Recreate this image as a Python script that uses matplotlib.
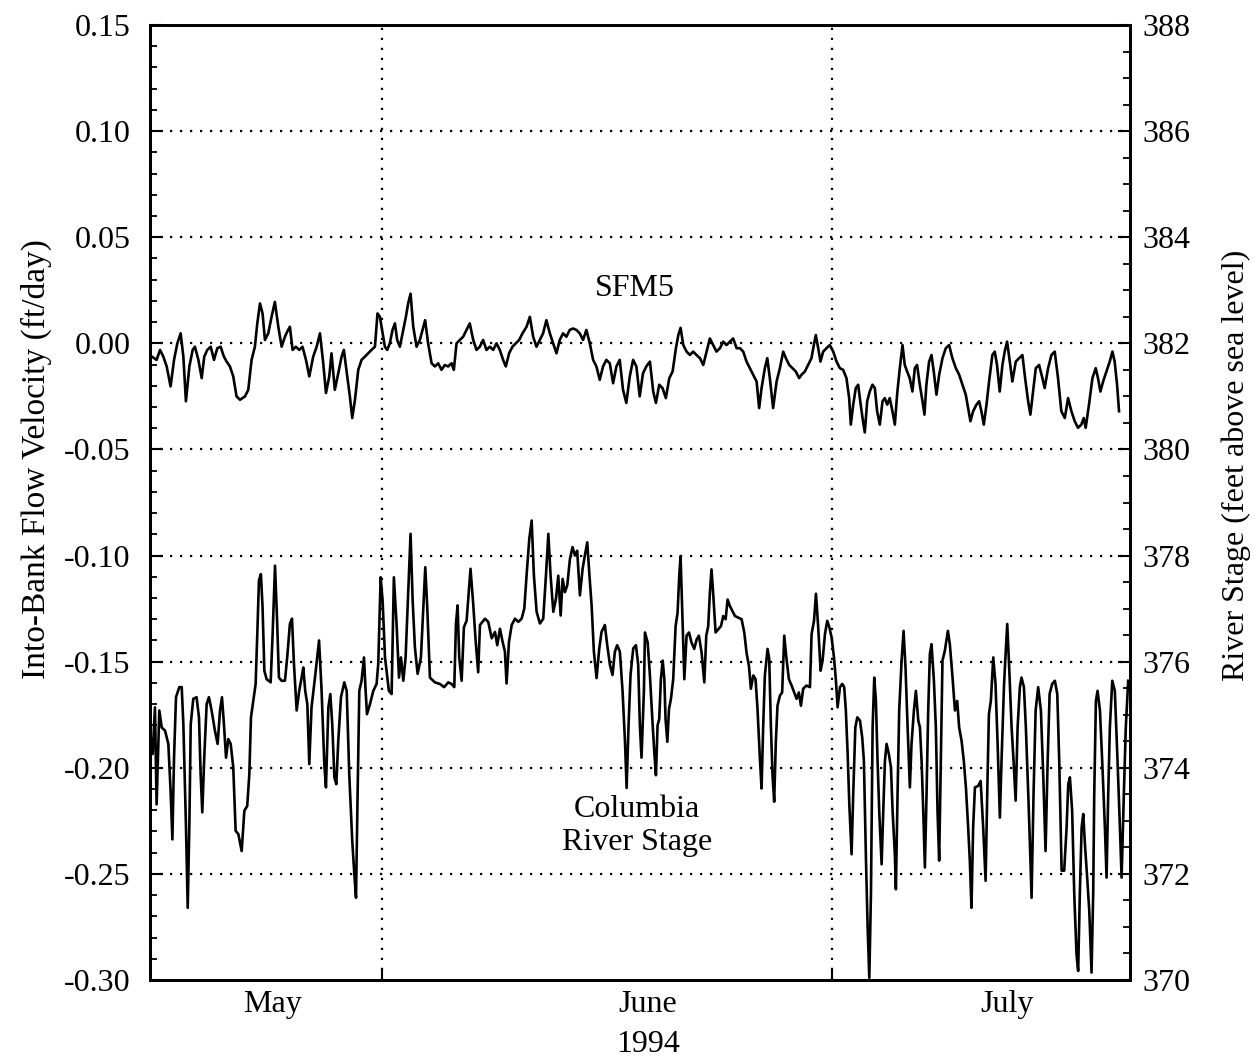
import matplotlib
matplotlib.use("Agg")
import matplotlib.pyplot as plt
from matplotlib.ticker import MultipleLocator, FixedLocator

plt.rcParams['font.family'] = ['Liberation Serif', 'DejaVu Serif']
plt.rcParams['axes.unicode_minus'] = False

# time axis: days counted from 1 May 1994 (June 1 = 31, July 1 = 61)
month_names = ["May", "June", "July"]
month_label_pos = [23.7, 48.7, 72.6]
month_starts = [31, 61]
year_label = "1994"

# SFM5 into-bank flow velocity (ft/day) -- (day, value)
sfm5 = [
    (15.65, -0.006), (16.02, -0.0078), (16.25, -0.0031), (16.47, -0.0063), (16.69, -0.0109),
    (16.95, -0.0203), (17.18, -0.0078), (17.40, 0.0), (17.62, 0.0047), (17.80, -0.0063),
    (17.97, -0.0273), (18.20, -0.0109), (18.42, -0.0031), (18.57, -0.0016), (18.80, -0.0078),
    (19.02, -0.0164), (19.19, -0.0063), (19.39, -0.0031), (19.62, -0.0016), (19.84, -0.0078),
    (20.06, -0.0023), (20.28, -0.0016), (20.50, -0.0063), (20.68, -0.0086), (20.90, -0.0109),
    (21.12, -0.0156), (21.34, -0.0250), (21.57, -0.0266), (21.90, -0.0250), (22.12, -0.0219),
    (22.34, -0.0078), (22.56, -0.0016), (22.72, 0.0094), (22.90, 0.0188), (23.07, 0.0141),
    (23.23, 0.0016), (23.45, 0.0047), (23.67, 0.0125), (23.89, 0.0195), (24.12, 0.0078),
    (24.34, -0.0016), (24.56, 0.0031), (24.71, 0.0055), (24.89, 0.0078), (25.07, -0.0031),
    (25.29, -0.0016), (25.51, -0.0031), (25.73, -0.0016), (25.96, -0.0078), (26.18, -0.0156),
    (26.44, -0.0063), (26.67, -0.0016), (26.89, 0.0047), (27.11, -0.0094), (27.29, -0.0234),
    (27.51, -0.0156), (27.66, -0.0047), (27.88, -0.0219), (28.11, -0.0141), (28.33, -0.0063),
    (28.48, -0.0031), (28.71, -0.0156), (28.88, -0.0250), (29.04, -0.0352), (29.22, -0.0266),
    (29.44, -0.0125), (29.66, -0.0078), (29.88, -0.0063), (30.10, -0.0047), (30.32, -0.0031),
    (30.55, -0.0016), (30.72, 0.0141), (30.88, 0.0125), (31.06, 0.0047), (31.21, -0.0016),
    (31.37, -0.0031), (31.54, 0.0), (31.72, 0.0063), (31.88, 0.0094), (32.03, 0.0016),
    (32.21, -0.0016), (32.39, 0.0047), (32.61, 0.0125), (32.76, 0.0188), (32.92, 0.0234),
    (33.10, 0.0078), (33.32, -0.0016), (33.54, 0.0016), (33.72, 0.0063), (33.89, 0.0109),
    (34.09, 0.0), (34.32, -0.0094), (34.54, -0.0109), (34.76, -0.0094), (34.98, -0.0125),
    (35.20, -0.0102), (35.42, -0.0109), (35.65, -0.0094), (35.80, -0.0125), (35.98, 0.0),
    (36.20, 0.0016), (36.42, 0.0031), (36.64, 0.0063), (36.86, 0.0094), (37.09, 0.0016),
    (37.31, -0.0031), (37.53, -0.0016), (37.75, 0.0016), (37.97, -0.0031), (38.20, -0.0016),
    (38.42, -0.0031), (38.64, 0.0), (38.86, -0.0031), (39.08, -0.0078), (39.26, -0.0109),
    (39.48, -0.0047), (39.70, -0.0016), (39.93, 0.0), (40.15, 0.0016), (40.37, 0.0047),
    (40.64, 0.0078), (40.86, 0.0125), (41.08, 0.0031), (41.30, -0.0016), (41.52, 0.0016),
    (41.74, 0.0047), (41.96, 0.0109), (42.19, 0.0047), (42.41, 0.0), (42.63, -0.0047),
    (42.85, 0.0016), (43.07, 0.0047), (43.29, 0.0031), (43.51, 0.0063), (43.74, 0.0070),
    (43.96, 0.0063), (44.18, 0.0047), (44.40, 0.0016), (44.62, 0.0063), (44.85, 0.0),
    (45.07, -0.0078), (45.29, -0.0109), (45.51, -0.0172), (45.73, -0.0109), (45.95, -0.0078),
    (46.18, -0.0094), (46.40, -0.0188), (46.62, -0.0109), (46.84, -0.0078), (47.06, -0.0219),
    (47.28, -0.0281), (47.51, -0.0156), (47.73, -0.0078), (47.95, -0.0109), (48.17, -0.0250),
    (48.39, -0.0141), (48.61, -0.0109), (48.85, -0.0086), (49.07, -0.0227), (49.25, -0.0281),
    (49.47, -0.0195), (49.69, -0.0211), (49.91, -0.0258), (50.14, -0.0164), (50.36, -0.0133),
    (50.58, -0.0023), (50.74, 0.0039), (50.89, 0.0073), (51.07, -0.0008), (51.29, -0.0039),
    (51.51, -0.0055), (51.73, -0.0039), (51.95, -0.0055), (52.18, -0.0070), (52.40, -0.0102),
    (52.62, -0.0039), (52.84, 0.0023), (53.06, -0.0008), (53.28, -0.0039), (53.51, -0.0023),
    (53.73, 0.0008), (53.95, -0.0008), (54.17, 0.0008), (54.39, 0.0023), (54.62, -0.0023),
    (54.84, -0.0023), (55.06, -0.0039), (55.28, -0.0086), (55.50, -0.0117), (55.72, -0.0148),
    (55.95, -0.0180), (56.12, -0.0305), (56.28, -0.0211), (56.50, -0.0117), (56.66, -0.0070),
    (56.83, -0.0164), (57.05, -0.0305), (57.28, -0.0180), (57.50, -0.0117), (57.72, -0.0039),
    (57.90, -0.0070), (58.12, -0.0102), (58.34, -0.0117), (58.56, -0.0133), (58.78, -0.0164),
    (58.94, -0.0148), (59.16, -0.0133), (59.38, -0.0102), (59.60, -0.0070), (59.76, -0.0008),
    (59.89, 0.0039), (60.05, -0.0023), (60.20, -0.0086), (60.38, -0.0039), (60.60, -0.0023),
    (60.82, -0.0008), (61.05, -0.0039), (61.27, -0.0086), (61.49, -0.0117), (61.71, -0.0125),
    (61.93, -0.0164), (62.11, -0.0258), (62.22, -0.0383), (62.38, -0.0289), (62.55, -0.0211),
    (62.71, -0.0195), (62.82, -0.0258), (63.00, -0.0352), (63.15, -0.0420), (63.31, -0.0273),
    (63.48, -0.0227), (63.66, -0.0195), (63.82, -0.0211), (63.97, -0.0320), (64.15, -0.0383),
    (64.33, -0.0273), (64.48, -0.0258), (64.64, -0.0289), (64.81, -0.0258), (64.99, -0.0320),
    (65.15, -0.0383), (65.30, -0.0242), (65.48, -0.0117), (65.66, -0.0008), (65.81, -0.0102),
    (65.97, -0.0133), (66.14, -0.0164), (66.32, -0.0227), (66.48, -0.0117), (66.63, -0.0102),
    (66.81, -0.0195), (66.99, -0.0273), (67.12, -0.0336), (67.25, -0.0195), (67.43, -0.0086),
    (67.59, -0.0055), (67.74, -0.0133), (67.92, -0.0242), (68.10, -0.0148), (68.32, -0.0070),
    (68.54, -0.0023), (68.76, -0.0008), (68.98, -0.0070), (69.21, -0.0117), (69.43, -0.0148),
    (69.65, -0.0195), (69.87, -0.0242), (70.03, -0.0305), (70.18, -0.0367), (70.36, -0.0320),
    (70.58, -0.0289), (70.76, -0.0273), (70.91, -0.0320), (71.07, -0.0383), (71.25, -0.0289),
    (71.42, -0.0180), (71.64, -0.0055), (71.80, -0.0039), (71.95, -0.0102), (72.13, -0.0227),
    (72.31, -0.0102), (72.46, -0.0039), (72.62, 0.0008), (72.80, -0.0086), (72.97, -0.0180),
    (73.20, -0.0086), (73.42, -0.0070), (73.64, -0.0055), (73.82, -0.0164), (74.02, -0.0273),
    (74.17, -0.0336), (74.35, -0.0227), (74.53, -0.0117), (74.75, -0.0102), (74.97, -0.0164),
    (75.12, -0.0211), (75.35, -0.0117), (75.57, -0.0055), (75.79, -0.0039), (76.01, -0.0164),
    (76.23, -0.0320), (76.46, -0.0352), (76.68, -0.0258), (76.90, -0.0320), (77.12, -0.0367),
    (77.34, -0.0398), (77.56, -0.0383), (77.72, -0.0352), (77.85, -0.0398), (78.07, -0.0289),
    (78.30, -0.0164), (78.52, -0.0117), (78.67, -0.0164), (78.83, -0.0227), (79.01, -0.0180),
    (79.23, -0.0133), (79.45, -0.0086), (79.63, -0.0039), (79.78, -0.0086), (79.94, -0.0195),
    (80.07, -0.0320),
]

# Columbia River stage (feet above sea level) -- (day, value)
river = [
    (15.62, 374.6), (15.76, 374.26), (15.91, 375.14), (16.02, 373.31), (16.20, 375.08), (16.36, 374.76),
    (16.58, 374.70), (16.80, 374.45), (16.95, 373.57), (17.07, 372.65), (17.18, 374.19),
    (17.31, 375.33), (17.53, 375.52), (17.69, 375.52), (17.80, 374.82), (17.97, 372.94),
    (18.09, 371.36), (18.20, 372.94), (18.29, 374.82), (18.46, 375.30), (18.68, 375.33),
    (18.84, 374.95), (18.95, 373.88), (19.06, 373.16), (19.19, 374.19), (19.35, 375.20),
    (19.50, 375.33), (19.68, 375.08), (19.90, 374.70), (20.08, 374.45), (20.24, 375.08),
    (20.37, 375.33), (20.50, 374.82), (20.64, 374.19), (20.79, 374.54), (20.95, 374.45),
    (21.12, 374.01), (21.28, 372.81), (21.46, 372.75), (21.68, 372.43), (21.86, 373.19),
    (22.05, 373.28), (22.19, 373.88), (22.30, 374.95), (22.45, 375.26), (22.61, 375.58),
    (22.72, 376.52), (22.83, 377.53), (22.96, 377.65), (23.07, 377.03), (23.19, 375.83),
    (23.34, 375.67), (23.61, 375.61), (23.74, 376.52), (23.90, 377.81), (24.03, 376.84),
    (24.16, 375.70), (24.34, 375.64), (24.56, 375.64), (24.71, 376.08), (24.89, 376.71),
    (25.03, 376.81), (25.16, 375.96), (25.34, 375.08), (25.51, 375.45), (25.67, 375.70),
    (25.78, 375.89), (25.91, 375.45), (26.05, 375.20), (26.18, 374.07), (26.33, 375.14),
    (26.49, 375.52), (26.56, 375.70), (26.83, 376.40), (27.00, 375.45), (27.18, 374.07),
    (27.29, 373.63), (27.45, 375.14), (27.58, 375.39), (27.71, 374.82), (27.85, 373.82),
    (27.98, 373.69), (28.11, 374.51), (28.29, 375.33), (28.51, 375.61), (28.67, 375.45),
    (28.84, 373.88), (29.04, 372.62), (29.18, 371.99), (29.29, 371.55), (29.40, 373.57),
    (29.51, 375.45), (29.66, 375.64), (29.82, 376.08), (29.93, 375.45), (30.02, 375.01),
    (30.22, 375.20), (30.44, 375.45), (30.66, 375.58), (30.77, 375.96), (30.93, 377.59),
    (31.06, 377.15), (31.22, 376.08), (31.48, 375.45), (31.66, 375.39), (31.81, 377.59),
    (31.99, 376.71), (32.15, 375.70), (32.28, 376.08), (32.44, 375.64), (32.59, 376.08),
    (32.77, 377.34), (32.92, 378.41), (33.06, 377.15), (33.21, 376.27), (33.39, 375.77),
    (33.61, 376.08), (33.77, 377.03), (33.90, 377.78), (34.03, 377.03), (34.21, 375.70),
    (34.54, 375.61), (34.87, 375.58), (35.16, 375.52), (35.43, 375.61), (35.65, 375.58),
    (35.83, 375.52), (35.94, 376.71), (36.05, 377.06), (36.16, 376.08), (36.32, 375.64),
    (36.47, 376.65), (36.65, 376.77), (36.80, 377.34), (36.91, 377.75), (37.09, 377.09),
    (37.25, 376.40), (37.42, 375.80), (37.54, 376.69), (37.87, 376.81), (38.09, 376.75),
    (38.32, 376.44), (38.54, 376.56), (38.69, 376.31), (38.87, 376.62), (39.05, 376.37),
    (39.20, 376.19), (39.31, 375.59), (39.47, 376.37), (39.65, 376.69), (39.87, 376.81),
    (40.09, 376.75), (40.31, 376.81), (40.49, 377.00), (40.64, 377.62), (40.82, 378.31),
    (40.98, 378.66), (41.13, 377.62), (41.31, 376.94), (41.53, 376.72), (41.75, 376.81),
    (41.93, 377.62), (42.09, 378.41), (42.24, 377.62), (42.42, 376.94), (42.60, 377.19),
    (42.75, 377.62), (42.91, 376.87), (43.04, 377.56), (43.19, 377.31), (43.35, 377.44),
    (43.53, 377.94), (43.70, 378.16), (43.86, 378.00), (44.01, 378.09), (44.19, 377.25),
    (44.37, 377.75), (44.52, 378.00), (44.68, 378.25), (44.81, 377.69), (44.97, 377.06),
    (45.12, 376.19), (45.30, 375.69), (45.48, 376.25), (45.63, 376.56), (45.85, 376.69),
    (46.01, 376.31), (46.19, 375.94), (46.36, 375.75), (46.52, 376.19), (46.67, 376.31),
    (46.85, 376.19), (47.03, 375.44), (47.19, 374.50), (47.30, 373.62), (47.43, 374.81),
    (47.56, 375.75), (47.74, 376.25), (47.92, 376.31), (48.07, 375.94), (48.18, 374.81),
    (48.29, 374.19), (48.45, 375.44), (48.52, 376.55), (48.70, 376.36), (48.85, 375.74),
    (49.01, 374.92), (49.14, 374.30), (49.25, 373.86), (49.36, 374.80), (49.47, 374.92),
    (49.58, 375.67), (49.70, 376.02), (49.81, 375.67), (49.89, 374.92), (50.01, 374.49),
    (50.12, 375.11), (50.25, 375.30), (50.40, 375.67), (50.56, 376.67), (50.69, 376.92),
    (50.80, 377.61), (50.89, 377.99), (51.00, 376.99), (51.14, 375.67), (51.29, 376.49),
    (51.45, 376.55), (51.62, 376.36), (51.80, 376.24), (51.96, 376.42), (52.11, 376.49),
    (52.29, 376.17), (52.47, 375.61), (52.60, 376.49), (52.73, 376.67), (52.84, 377.30),
    (52.95, 377.74), (53.07, 377.24), (53.22, 376.55), (53.40, 376.61), (53.58, 376.67),
    (53.73, 376.86), (53.89, 376.80), (54.02, 377.17), (54.17, 377.05), (54.33, 376.96),
    (54.51, 376.86), (54.73, 376.83), (54.95, 376.80), (55.13, 376.55), (55.28, 376.17),
    (55.44, 375.92), (55.57, 375.49), (55.73, 375.74), (55.88, 375.67), (56.01, 375.11),
    (56.17, 374.17), (56.28, 373.61), (56.39, 374.80), (56.50, 375.74), (56.68, 376.24),
    (56.79, 376.05), (56.90, 374.80), (57.01, 373.86), (57.12, 373.36), (57.23, 374.49),
    (57.34, 375.17), (57.50, 375.36), (57.65, 375.42), (57.79, 376.49), (57.94, 376.05),
    (58.10, 375.67), (58.28, 375.55), (58.45, 375.42), (58.61, 375.30), (58.76, 375.42),
    (58.90, 375.17), (59.05, 375.49), (59.27, 375.55), (59.50, 375.52), (59.61, 376.52),
    (59.77, 376.77), (59.90, 377.28), (60.05, 376.65), (60.21, 375.83), (60.34, 376.02),
    (60.50, 376.52), (60.65, 376.77), (60.79, 376.65), (60.94, 376.46), (61.10, 376.08),
    (61.23, 375.64), (61.34, 375.14), (61.50, 375.52), (61.65, 375.58), (61.78, 375.52),
    (61.89, 375.08), (62.01, 374.26), (62.12, 373.31), (62.27, 372.37), (62.38, 373.50),
    (62.52, 374.76), (62.65, 374.95), (62.83, 374.89), (62.98, 374.57), (63.09, 374.13),
    (63.23, 372.25), (63.34, 370.99), (63.45, 370.04), (63.56, 371.62), (63.67, 374.76),
    (63.78, 375.70), (63.89, 375.26), (64.00, 374.13), (64.11, 373.19), (64.27, 372.18),
    (64.38, 373.19), (64.49, 374.13), (64.60, 374.45), (64.75, 374.26), (64.89, 374.01),
    (65.00, 373.19), (65.15, 372.37), (65.22, 371.71), (65.33, 373.50), (65.44, 375.08),
    (65.60, 376.02), (65.73, 376.58), (65.86, 375.89), (66.00, 374.76), (66.15, 373.63),
    (66.26, 374.45), (66.42, 375.08), (66.55, 375.45), (66.71, 374.89), (66.82, 374.76),
    (66.93, 374.13), (67.04, 373.19), (67.15, 372.12), (67.26, 373.50), (67.37, 375.08),
    (67.48, 376.14), (67.59, 376.33), (67.75, 375.64), (67.88, 374.76), (67.99, 373.19),
    (68.10, 372.25), (68.21, 374.13), (68.32, 376.02), (68.48, 376.21), (68.68, 376.58),
    (68.81, 376.33), (68.99, 375.70), (69.15, 375.08), (69.30, 375.26), (69.43, 374.76),
    (69.59, 374.51), (69.74, 374.13), (69.88, 373.63), (70.03, 372.87), (70.14, 372.25),
    (70.25, 371.36), (70.36, 372.87), (70.48, 373.63), (70.70, 373.66), (70.86, 373.75),
    (71.03, 372.87), (71.19, 371.87), (71.32, 373.82), (71.41, 375.01), (71.54, 375.26),
    (71.70, 376.08), (71.85, 375.58), (71.99, 374.45), (72.14, 373.06), (72.25, 374.13),
    (72.41, 375.52), (72.52, 376.14), (72.63, 376.71), (72.76, 375.89), (72.92, 374.76),
    (73.05, 374.13), (73.19, 373.38), (73.32, 374.76), (73.47, 375.52), (73.58, 375.70),
    (73.74, 375.52), (73.87, 374.76), (74.03, 373.50), (74.14, 372.56), (74.25, 371.55),
    (74.38, 373.50), (74.52, 375.08), (74.69, 375.52), (74.87, 375.08), (75.03, 373.82),
    (75.18, 372.43), (75.32, 374.13), (75.45, 375.39), (75.62, 375.58), (75.80, 375.64),
    (75.96, 375.39), (76.09, 374.13), (76.25, 372.06), (76.42, 372.06), (76.58, 372.87),
    (76.69, 373.69), (76.80, 373.82), (76.95, 373.19), (77.09, 371.62), (77.24, 370.48),
    (77.35, 370.17), (77.46, 371.62), (77.58, 372.87), (77.69, 373.13), (77.80, 372.56),
    (77.95, 371.93), (78.09, 371.30), (78.24, 370.14), (78.35, 371.62), (78.42, 373.50),
    (78.53, 375.26), (78.64, 375.45), (78.80, 375.08), (78.95, 374.13), (79.13, 372.87),
    (79.24, 371.93), (79.35, 373.50), (79.46, 374.76), (79.62, 375.64), (79.79, 375.45),
    (79.97, 374.13), (80.13, 372.87), (80.24, 371.93), (80.39, 373.50), (80.52, 374.76),
    (80.68, 375.64),
]

vel_ticks = [-0.30, -0.25, -0.20, -0.15, -0.10, -0.05, 0.00, 0.05, 0.10, 0.15]
stage_ticks = [370, 372, 374, 376, 378, 380, 382, 384, 386, 388]

FS = 23

fig = plt.figure(figsize=(12.54, 10.61), dpi=100)
ax = fig.add_axes([150 / 1254, 1 - 980 / 1061, 980 / 1254, 955 / 1061])
ax2 = ax.twinx()

t1, v1 = zip(*sfm5)
t2, s2 = zip(*river)
ax.plot(t1, v1, color='black', lw=1.9, zorder=3)
ax2.plot(t2, s2, color='black', lw=1.9, zorder=3)

ax.set_xlim(15.58, 80.8)
ax.set_ylim(-0.30, 0.15)
ax2.set_ylim(370, 388)

ax.yaxis.set_major_locator(FixedLocator(vel_ticks))
ax.set_yticklabels([f"{v:.2f}" for v in vel_ticks])
ax.yaxis.set_minor_locator(MultipleLocator(0.01))
ax2.yaxis.set_major_locator(FixedLocator(stage_ticks))
ax2.set_yticklabels([str(v) for v in stage_ticks])
ax2.yaxis.set_minor_locator(MultipleLocator(0.5))

ax.set_xticks(month_starts)
ax.set_xticklabels(["", ""])
ax.set_xticks(month_label_pos, minor=True)
ax.set_xticklabels(month_names, minor=True)

ax.tick_params(axis='y', which='major', direction='in', length=9, width=1.5,
               labelsize=FS, pad=14)
ax.tick_params(axis='y', which='minor', direction='in', length=5, width=1.3)
ax2.tick_params(axis='y', which='major', direction='in', length=9, width=1.5,
                labelsize=FS, pad=9)
ax2.tick_params(axis='y', which='minor', direction='in', length=5, width=1.3)
ax.tick_params(axis='x', which='major', direction='in', length=9, width=1.5, top=False)
ax.tick_params(axis='x', which='minor', length=0, labelsize=FS, pad=7)

# dotted grid
for v in vel_ticks[1:-1]:
    ax.axhline(v, color='black', lw=1.6, ls=(0, (1, 3.5)), zorder=1)
for m in month_starts:
    ax.axvline(m, color='black', lw=1.6, ls=(0, (1, 3.5)), zorder=1)

for a in (ax, ax2):
    for sp in a.spines.values():
        sp.set_linewidth(2.0)

ax.set_ylabel("Into-Bank Flow Velocity (ft/day)", fontsize=24)
ax.yaxis.set_label_coords(-0.100, 0.545)
ax2.set_ylabel("River Stage (feet above sea level)", fontsize=23)
ax2.yaxis.set_label_coords(1.093, 0.539)
ax.set_xlabel(year_label, fontsize=FS)
ax.xaxis.set_label_coords(0.508, -0.052)

ax.text(47.85, 0.026, "SFM5", fontsize=FS, ha='center', va='center')
ax.text(47.99, -0.2274, "Columbia\nRiver Stage", fontsize=FS, ha='center', va='center',
        linespacing=1.15)

fig.savefig("out.png", dpi=100)
